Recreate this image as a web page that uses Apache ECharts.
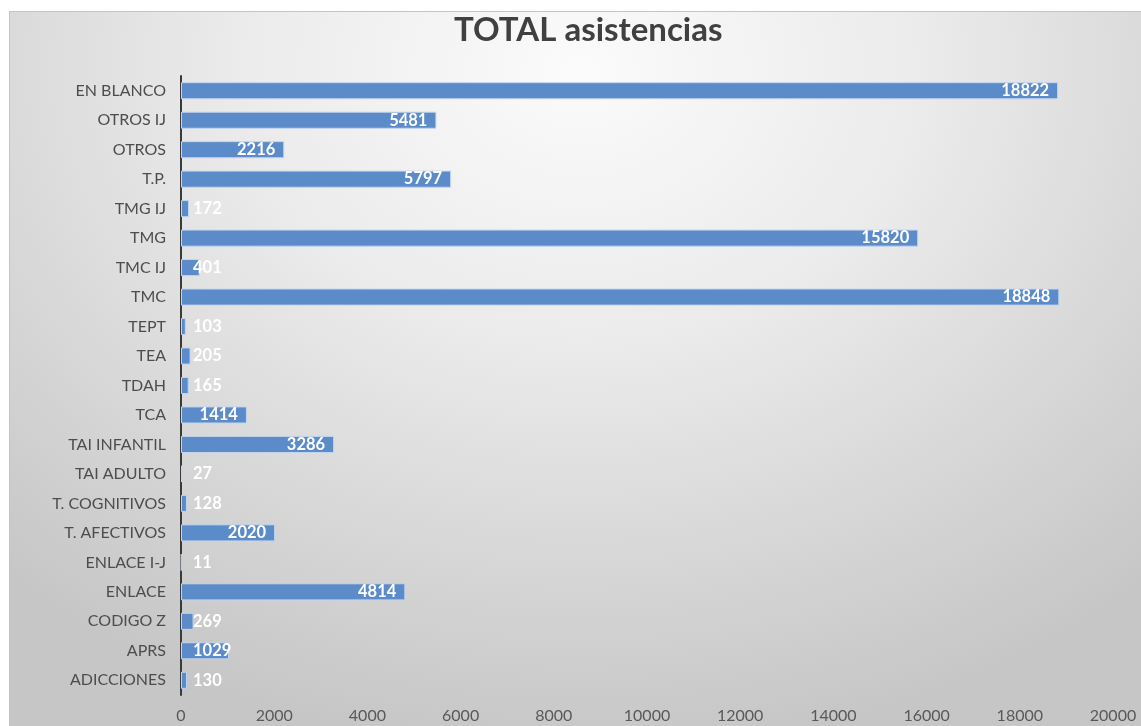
<!DOCTYPE html>
<html>
<head>
<meta charset="utf-8">
<script src="https://cdn.jsdelivr.net/npm/echarts@6/dist/echarts.min.js"></script>
<style>
  html, body { margin: 0; padding: 0; background: #fff; }
  #frame {
    position: absolute; left: 9px; top: 11px; width: 1140px; height: 720px;
    border: 1px solid #c4c4c4;
    background: radial-gradient(ellipse 75% 95% at 50% 8%, #fbfbfb 0%, #ebebeb 40%, #d5d5d5 75%, #c6c6c6 100%);
  }
  #chart { position: absolute; left: 0; top: 0; width: 1141px; height: 726px; }
</style>
</head>
<body>
<div id="frame"></div>
<div id="chart"></div>
<script>
// categories from bottom to top (category axis starts at the bottom)
const categories = [
  'ADICCIONES', 'APRS', 'CODIGO Z', 'ENLACE', 'ENLACE I-J', 'T. AFECTIVOS',
  'T. COGNITIVOS', 'TAI ADULTO', 'TAI INFANTIL', 'TCA', 'TDAH', 'TEA', 'TEPT',
  'TMC', 'TMC IJ', 'TMG', 'TMG IJ', 'T.P.', 'OTROS', 'OTROS IJ', 'EN BLANCO'
];
const totals = [
  130, 1029, 269, 4814, 11, 2020, 128, 27, 3286, 1414, 165, 205, 103,
  18848, 401, 15820, 172, 5797, 2216, 5481, 18822
];
const xTicks = [0, 2000, 4000, 6000, 8000, 10000, 12000, 14000, 16000, 18000, 20000];

const FONT = 'Lato, "Open Sans", sans-serif';
const barColor = '#5b8bc8';

const chart = echarts.init(document.getElementById('chart'), undefined, { renderer: 'canvas' });

chart.setOption({
  animation: false,
  backgroundColor: 'transparent',
  title: {
    text: 'TOTAL asistencias',
    left: 449,
    top: 9,
    textStyle: { fontFamily: FONT, fontSize: 33, fontWeight: 'bold', color: '#404040' }
  },
  grid: { left: 181, right: 28, top: 76, bottom: 31 },
  xAxis: {
    type: 'value',
    min: xTicks[0],
    max: xTicks[xTicks.length - 1],
    interval: 2000,
    axisLine: { show: false },
    axisTick: { show: false },
    splitLine: { show: false },
    axisLabel: {
      fontFamily: FONT, fontSize: 16, color: '#595959', margin: 13,
      formatter: v => String(v)
    }
  },
  yAxis: {
    type: 'category',
    data: categories,
    axisLine: { show: true, lineStyle: { color: '#3a3a3a', width: 2 } },
    axisTick: { show: false },
    axisLabel: { fontFamily: FONT, fontSize: 16, color: '#4d4d4d', margin: 15 }
  },
  series: [{
    type: 'bar',
    data: totals.map(v => ({
      value: v,
      label: v < 1100
        ? { position: 'insideLeft', distance: 12 }
        : { position: 'insideRight', distance: 9 }
    })),
    barCategoryGap: '42%',
    itemStyle: { color: barColor, borderColor: '#c3d5ee', borderWidth: 1 },
    label: {
      show: true,
      color: '#ffffff',
      fontFamily: FONT,
      fontSize: 16.5,
      fontWeight: 'bold'
    }
  }]
});
</script>
</body>
</html>
